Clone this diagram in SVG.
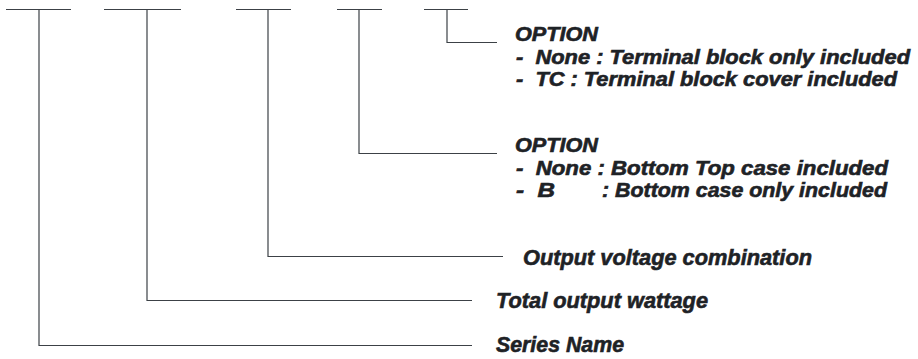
<svg xmlns="http://www.w3.org/2000/svg" width="918" height="359" viewBox="0 0 918 359">
<style>
.ln{fill:none;stroke:#3c4146;stroke-width:1.2}
.t{font-family:"Liberation Sans",Arial,sans-serif;font-weight:bold;font-style:italic;font-size:19.5px;fill:#1e2226;stroke:#1e2226;stroke-width:0.6}
.b{font-size:22px}
</style>
<rect width="918" height="359" fill="#ffffff"/>
<g id="connectors">
<path class="ln" d="M6 9.5H71M39 9.5V345.5H472"/>
<path class="ln" d="M104 9.5H181M147 9.5V300.5H472"/>
<path class="ln" d="M236 9.5H291M268 9.5V256.5H503"/>
<path class="ln" d="M337 9.5H382M359 9.5V153.5H497"/>
<path class="ln" d="M424 9.5H468M447 9.5V42.5H497"/>
</g>
<g id="option-tc">
<text class="t" x="515" y="41" textLength="83" lengthAdjust="spacingAndGlyphs">OPTION</text>
<text class="t" x="516" y="63.5" xml:space="preserve" textLength="394" lengthAdjust="spacingAndGlyphs">-  None : Terminal block only included</text>
<text class="t" x="516" y="86" xml:space="preserve" textLength="381" lengthAdjust="spacingAndGlyphs">-  TC : Terminal block cover included</text>
</g>
<g id="option-b">
<text class="t" x="515" y="152" textLength="83" lengthAdjust="spacingAndGlyphs">OPTION</text>
<text class="t" x="516" y="175" xml:space="preserve" textLength="372" lengthAdjust="spacingAndGlyphs">-  None : Bottom Top case included</text>
<text class="t" x="516" y="197" xml:space="preserve" textLength="39" lengthAdjust="spacingAndGlyphs">-  B</text>
<text class="t" x="602" y="197" textLength="285" lengthAdjust="spacingAndGlyphs">: Bottom case only included</text>
</g>
<g id="output-voltage">
<text class="t b" x="523" y="265" textLength="289" lengthAdjust="spacingAndGlyphs">Output voltage combination</text>
</g>
<g id="total-wattage">
<text class="t b" x="496" y="308" textLength="212" lengthAdjust="spacingAndGlyphs">Total output wattage</text>
</g>
<g id="series-name">
<text class="t b" x="496" y="352" textLength="128" lengthAdjust="spacingAndGlyphs">Series Name</text>
</g>
</svg>
